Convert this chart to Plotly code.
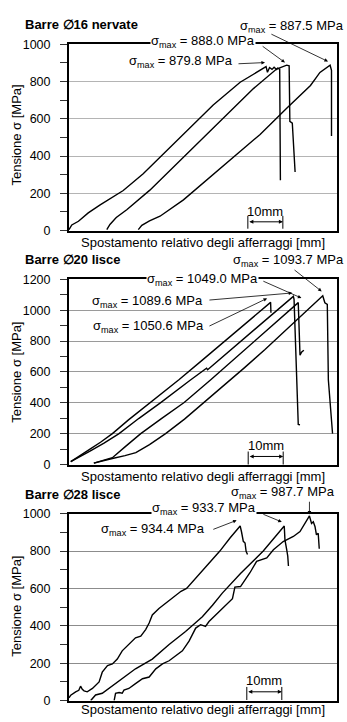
import plotly.graph_objects as go

# ---------------- data (x: mm, y: MPa) ----------------
# Panel 1 : Barre Ø16 nervate
p1_a_x = [0, 0.8, 2.7, 5.5, 8.9, 12, 15.5, 21.2, 27.9, 34.6, 41.2, 48.9, 54.6, 56.3, 56.7, 57.3, 58.0, 58.6, 59.3, 59.6, 60.2, 60.4]
p1_a_y = [5, 30, 50, 95, 138, 175, 215, 305, 428, 551, 674, 796, 862, 879.8, 850, 875, 865, 877, 865, 872, 866, 270]
p1_b_x = [10.8, 11.2, 11.7, 13.5, 16.5, 23.1, 29.8, 37.4, 45.1, 52.7, 59.3, 62.2, 62.9, 63.1, 63.8, 64.6]
p1_b_y = [5, 20, 33, 70, 112, 217, 340, 480, 621, 762, 867, 888.0, 884, 586, 577, 314]
p1_c_x = [19.8, 20.3, 20.8, 23, 26, 32.7, 39.3, 46.9, 54.6, 62.2, 69, 71.7, 72.7, 73.8, 74.6, 75.0, 75.0]
p1_c_y = [5, 18, 28, 52, 77, 165, 270, 393, 516, 656, 779, 849, 863, 875, 887.5, 860, 507]

# Panel 2 : Barre Ø20 lisce
p2_a_x = [0.5, 3, 6, 9, 12.4, 17, 23.3, 31.4, 38, 44, 50, 55, 57.6, 57.7]
p2_a_y = [20, 55, 100, 145, 201, 290, 402, 550, 675, 790, 905, 1000, 1050.6, 984]
p2_b_x = [0.5, 3, 6, 10, 14.3, 20, 26.2, 34.8, 39.3, 39.6, 45, 52, 58, 64.1, 64.3, 65.1, 65.5, 66.0]
p2_b_y = [20, 50, 88, 140, 201, 300, 402, 550, 625, 615, 720, 855, 972, 1089.6, 1070, 466, 260, 258]
p2_c_x = [7.1, 9.5, 12.4, 16, 20.5, 26.5, 32.9, 40.5, 47, 54, 60, 65.5, 66.0, 66.5, 67.1]
p2_c_y = [10, 25, 45, 115, 201, 300, 402, 550, 680, 820, 940, 1049.0, 709, 730, 741]
p2_d_x = [7.1, 9.5, 12.4, 16, 19.1, 23, 27.6, 33, 38.6, 42.9, 50, 56, 62, 68, 72.5, 73.1, 73.8, 74.1, 74.6, 75.3]
p2_d_y = [10, 25, 40, 58, 78, 130, 201, 295, 402, 487, 625, 745, 870, 995, 1093.7, 1048, 1037, 550, 381, 201]

# Panel 3 : Barre Ø28 lisce
p3_a_x = [0.0, 0.5, 1.9, 2.8, 3.3, 3.8, 4.3, 5.2, 6.7, 8.6, 9.5, 11.0, 12.4, 13.8, 15.2, 17.1, 19.0, 20.5, 21.9, 22.9,
          23.8, 25.7, 27.6, 30.5, 32.0, 33.6, 38.4, 43.1, 46.0, 48.9, 49.3, 49.8, 50.3, 50.6, 51.0]
p3_a_y = [15, 29, 47, 55, 77, 60, 52, 47, 65, 100, 152, 187, 196, 222, 266, 301, 336, 345, 380, 415,
          458, 493, 520, 563, 585, 600, 700, 800, 870, 934.4, 902, 852, 843, 799, 782]
p3_b_x = [6.2, 7.0, 7.6, 9.5, 11.4, 14.3, 19.0, 23.8, 28.6, 33.3, 38.1, 41.0, 43.8, 49.0, 55.5, 61.5, 61.7, 62.2, 62.5, 62.7]
p3_b_y = [0, 15, 30, 39, 65, 108, 170, 222, 300, 370, 449, 510, 575, 680, 800, 933.7, 860, 808, 773, 720]
p3_c_x = [12.9, 13.3, 14.3, 15.2, 15.7, 17.1, 19.0, 21.0, 22.9, 24.8, 26.7, 28.6, 30.5, 32.4, 34.3, 36.2, 37.6, 39.0,
          40.0, 41.9, 43.8, 46.7, 47.4, 49.0, 51.7, 53.6, 56.5, 58.4, 61.2, 64.1, 66.0, 67.4, 68.7, 69.3, 69.8, 70.3,
          70.7, 71.2, 71.5]
p3_c_y = [0, 39, 43, 39, 56, 65, 91, 117, 126, 170, 196, 213, 240, 266, 318, 388, 406, 397,
          423, 458, 493, 545, 607, 610, 684, 745, 763, 807, 851, 878, 904, 948, 987.7, 948, 957, 930,
          887, 895, 812]

titles = ["Barre \u220516 nervate", "Barre \u220520 lisce", "Barre \u220528 lisce"]
y_max = [1000, 1200, 1000]
x_label = "Spostamento relativo degli afferraggi [mm]"
y_label = "Tensione \u03c3 [MPa]"

panels = [
    [(p1_a_x, p1_a_y), (p1_b_x, p1_b_y), (p1_c_x, p1_c_y)],
    [(p2_a_x, p2_a_y), (p2_b_x, p2_b_y), (p2_c_x, p2_c_y), (p2_d_x, p2_d_y)],
    [(p3_a_x, p3_a_y), (p3_b_x, p3_b_y), (p3_c_x, p3_c_y)],
]

# ---------------- layout geometry ----------------
W, H = 347, 722
ML, MR = 69, 10
PW = W - ML - MR
X_RANGE = [0, PW / 3.5]      # 3.5 px per mm
panel_px = [(38, 228), (277.7, 466.7), (516.7, 707.3)]  # (top, bottom) in px
domains = [[(H - b) / H, (H - t) / H] for t, b in panel_px]
grid_colors = ["#b4b4b4", "#9a9a9a", "#8c8c8c"]

FONT = "Arial, 'Liberation Sans', sans-serif"
fig = go.Figure()

for i, curves in enumerate(panels):
    sfx = "" if i == 0 else str(i + 1)
    for cx, cy in curves:
        fig.add_trace(go.Scatter(x=cx, y=cy, mode="lines", xaxis="x" + sfx, yaxis="y" + sfx,
                                 line=dict(color="black", width=1.4), showlegend=False, hoverinfo="skip"))
    fig.layout["xaxis" + sfx] = dict(domain=[0, 1], range=X_RANGE, anchor="y" + sfx, showticklabels=False,
                                     ticks="", showgrid=False, zeroline=False, showline=True, linecolor="black",
                                     linewidth=1.5, mirror=True)
    fig.layout["yaxis" + sfx] = dict(domain=domains[i], range=[0, y_max[i]], anchor="x" + sfx, dtick=200,
                                     ticks="outside", ticklen=7, tickcolor="#333", tickwidth=1,
                                     minor=dict(dtick=100, ticks="outside", ticklen=7, tickcolor="#333", showgrid=False),
                                     showgrid=True, gridcolor=grid_colors[i], gridwidth=1, zeroline=False,
                                     showline=True, linecolor="black", linewidth=2, mirror=True,
                                     ticklabelstandoff=7,
                                     tickfont=dict(family=FONT, size=12.5, color="black"))

# ---------------- annotations ----------------
ann = []
TXT = dict(family=FONT, size=13, color="black")

def px_x(x):   # data mm -> paper
    return x / X_RANGE[1]

def px_y(ix, y):   # data MPa -> paper
    d0, d1 = domains[ix]
    return d0 + (d1 - d0) * y / y_max[ix]

def text(ix, x, y, t, **kw):
    d = dict(xref="paper", yref="paper", x=px_x(x), y=px_y(ix, y), text=t, showarrow=False, font=TXT,
             xanchor="center", yanchor="middle", borderpad=0)
    d.update(kw)
    ann.append(d)

def arrow(ix, x, y, ax, ay, **kw):
    sfx = "" if ix == 0 else str(ix + 1)
    d = dict(xref="x" + sfx, yref="y" + sfx, axref="x" + sfx, ayref="y" + sfx, x=x, y=y, ax=ax, ay=ay,
             text="", showarrow=True, arrowhead=2, arrowsize=0.9, arrowwidth=0.8, arrowcolor="black")
    d.update(kw)
    ann.append(d)

def peak(cx, cy):
    k = max(range(len(cy)), key=lambda j: cy[j])
    return cx[k], cy[k]

def smax(v):
    return "\u03c3<sub>max</sub> = %.1f MPa" % v

# titles, axis labels
title_y = [1105, 1331, 1103]
xlab_y = [-63, -78, -49]
ylab_y = [510, 595, 502]
for i in range(3):
    ann.append(dict(xref="paper", yref="paper", x=(23 - ML) / PW, y=px_y(i, title_y[i]), xanchor="left",
                    yanchor="middle", text="<b>%s</b>" % titles[i], showarrow=False,
                    font=dict(family=FONT, size=13, color="black")))
    ann.append(dict(xref="paper", yref="paper", x=0.5, y=px_y(i, xlab_y[i]), xanchor="center", yanchor="middle",
                    text=x_label, showarrow=False, font=TXT))
    ann.append(dict(xref="paper", yref="paper", x=(17 - ML) / PW, y=px_y(i, ylab_y[i]), xanchor="center",
                    yanchor="middle", text=y_label, textangle=-90, showarrow=False, font=TXT))

# panel 1 sigma labels
pa = peak(p1_a_x, p1_a_y); pb = peak(p1_b_x, p1_b_y); pc = peak(p1_c_x, p1_c_y)
text(0, 63.6, 1095, smax(pc[1]))
arrow(0, pc[0] - 0.6, pc[1] + 20, 57.4, 1058)
text(0, 38.4, 1016, smax(pb[1]), bgcolor="white")
arrow(0, pb[0] - 0.5, pb[1] + 14, 54.9, 995)
text(0, 32.0, 905, smax(pa[1]))
arrow(0, pa[0] - 0.3, pa[1] + 22, 48.0, 895)

# panel 2 sigma labels
qa = peak(p2_a_x, p2_a_y); qb = peak(p2_b_x, p2_b_y); qc = peak(p2_c_x, p2_c_y); qd = peak(p2_d_x, p2_d_y)
text(1, 62.7, 1325, smax(qd[1]))
arrow(1, qd[0] - 0.3, qd[1] + 28, 64.0, 1268)
text(1, 38.1, 1198, smax(qc[1]), bgcolor="white")
arrow(1, qc[0] + 0.9, qc[1] + 30, 55.1, 1192)
text(1, 22.4, 1058, smax(qb[1]))
arrow(1, qb[0] - 0.3, qb[1] + 22, 39.7, 1065)
text(1, 22.7, 893, smax(qa[1]))
arrow(1, qa[0] - 1.0, qa[1] + 26, 39.7, 893)

# panel 3 sigma labels
ra = peak(p3_a_x, p3_a_y); rb = peak(p3_b_x, p3_b_y); rc = peak(p3_c_x, p3_c_y)
text(2, 61.0, 1114, smax(rc[1]))
arrow(2, rc[0], rc[1] + 8, rc[0], 1072)
text(2, 38.6, 1026, smax(rb[1]), bgcolor="white")
arrow(2, rb[0] - 0.7, rb[1] + 22, 55.1, 1000)
text(2, 24.1, 914, smax(ra[1]))
arrow(2, ra[0] - 1.0, ra[1] + 30, 40.8, 913)

# 10 mm scale bars
bars = [(51.1, 79, 10, 47, 100), (51.2, 85, 0, 53, 127), (50.8, 73, 3, 47, 108)]
shapes = []
for i, (x0, yt, yb, ym, yt_txt) in enumerate(bars):
    sfx = "" if i == 0 else str(i + 1)
    for xx in (x0, x0 + 10):
        shapes.append(dict(type="line", xref="x" + sfx, yref="y" + sfx, x0=xx, x1=xx, y0=yb, y1=yt,
                           line=dict(color="black", width=1)))
    arrow(i, x0 + 10, ym, x0, ym, arrowside="end+start", arrowwidth=1, arrowsize=0.8)
    text(i, x0 + 5, yt_txt, "10mm")

fig.update_layout(width=W, height=H, margin=dict(l=ML, r=MR, t=0, b=0),
                  paper_bgcolor="white", plot_bgcolor="white",
                  annotations=ann, shapes=shapes, font=dict(family=FONT, color="black"))

fig.write_html("out.html")
